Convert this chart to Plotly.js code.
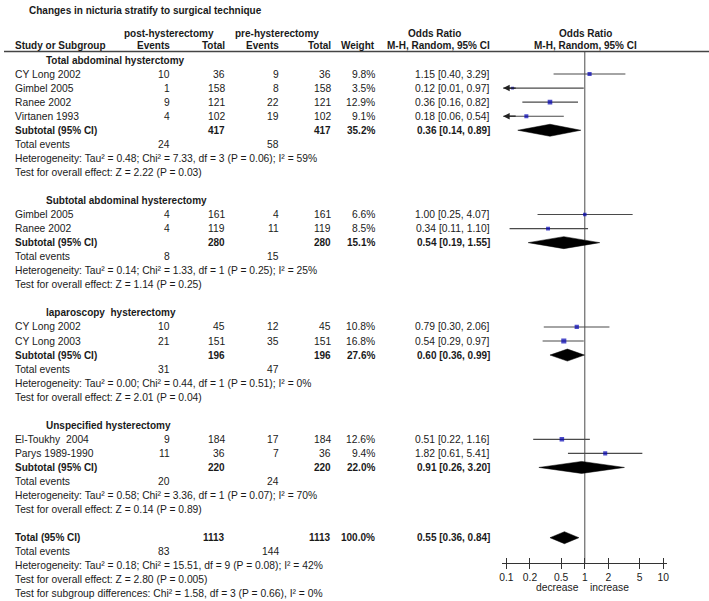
<!DOCTYPE html>
<html>
<head>
<meta charset="utf-8">
<script src="https://cdn.plot.ly/plotly-3.0.1.min.js"></script>
<style>html,body{margin:0;padding:0;background:#fff;}#chart{width:709px;height:601px;}</style>
</head>
<body>
<div id="chart"></div>
<script>
// ---------------- DATA ----------------
const chartTitle = "Changes in nicturia stratify to surgical technique";
const groupNames = ["Total abdominal hysterctomy", "Subtotal abdominal hysterectomy", "laparoscopy  hysterectomy", "Unspecified hysterectomy"];
const studyGroup = [0, 0, 0, 0, 1, 1, 2, 2, 3, 3];
const studyNames = ["CY Long 2002", "Gimbel 2005", "Ranee 2002", "Virtanen 1993", "Gimbel 2005", "Ranee 2002", "CY Long 2002", "CY Long 2003", "El-Toukhy  2004", "Parys 1989-1990"];
const postEvents = [10, 1, 9, 4, 4, 4, 10, 21, 9, 11];
const postTotal = [36, 158, 121, 102, 161, 119, 45, 151, 184, 36];
const preEvents = [9, 8, 22, 19, 4, 11, 12, 35, 17, 7];
const preTotal = [36, 158, 121, 102, 161, 119, 45, 151, 184, 36];
const studyWeight = [9.8, 3.5, 12.9, 9.1, 6.6, 8.5, 10.8, 16.8, 12.6, 9.4];
const studyOR = [1.15, 0.12, 0.36, 0.18, 1.00, 0.34, 0.79, 0.54, 0.51, 1.82];
const studyLo = [0.40, 0.01, 0.16, 0.06, 0.25, 0.11, 0.30, 0.29, 0.22, 0.61];
const studyHi = [3.29, 0.97, 0.82, 0.54, 4.07, 1.10, 2.06, 0.97, 1.16, 5.41];

const subPostTotal = [417, 280, 196, 220];
const subPreTotal = [417, 280, 196, 220];
const subPostEvents = [24, 8, 31, 20];
const subPreEvents = [58, 15, 47, 24];
const subWeight = [35.2, 15.1, 27.6, 22.0];
const subOR = [0.36, 0.54, 0.60, 0.91];
const subLo = [0.14, 0.19, 0.36, 0.26];
const subHi = [0.89, 1.55, 0.99, 3.20];
const subHet = [
  "Heterogeneity: Tau² = 0.48; Chi² = 7.33, df = 3 (P = 0.06); I² = 59%",
  "Heterogeneity: Tau² = 0.14; Chi² = 1.33, df = 1 (P = 0.25); I² = 25%",
  "Heterogeneity: Tau² = 0.00; Chi² = 0.44, df = 1 (P = 0.51); I² = 0%",
  "Heterogeneity: Tau² = 0.58; Chi² = 3.36, df = 1 (P = 0.07); I² = 70%"
];
const subTest = [
  "Test for overall effect: Z = 2.22 (P = 0.03)",
  "Test for overall effect: Z = 1.14 (P = 0.25)",
  "Test for overall effect: Z = 2.01 (P = 0.04)",
  "Test for overall effect: Z = 0.14 (P = 0.89)"
];
const totalPostTotal = 1113, totalPreTotal = 1113;
const totalPostEvents = 83, totalPreEvents = 144;
const totalWeight = 100.0;
const totalOR = 0.55, totalLo = 0.36, totalHi = 0.84;
const totalHet = "Heterogeneity: Tau² = 0.18; Chi² = 15.51, df = 9 (P = 0.08); I² = 42%";
const totalTest = "Test for overall effect: Z = 2.80 (P = 0.005)";
const subgroupTest = "Test for subgroup differences: Chi² = 1.58, df = 3 (P = 0.66), I² = 0%";
const tickValues = [0.1, 0.2, 0.5, 1, 2, 5, 10];
const tickLabels = ["0.1", "0.2", "0.5", "1", "2", "5", "10"];
const nullValue = 1;

// ---------------- LAYOUT RULES ----------------
const W = 709, H = 601;
const ROW0 = 60, DY = 14.05;
const HEADER_LINE_Y = 51.5, AXIS_Y = 563;
const FONT = "Liberation Sans, Arial, sans-serif";
const FS = 10.3, FSB = 10;
const TXT = "#1a1a1a";
const COL = { name: 13, head: 44, postEv: 172, postTot: 227, preEv: 281, preTot: 333, weight: 377, orTxt: 492 };
const LOGMIN = -1.05, LOGMAX = 1.05;
const X0PX = 502.4, X1PX = 667.2;
const rowY = i => ROW0 + i * DY;
const fmt2 = v => v.toFixed(2);
const ciText = (o, l, h) => fmt2(o) + " [" + fmt2(l) + ", " + fmt2(h) + "]";

const annotations = [];
function txt(px, y, text, anchor, bold, size) {
  annotations.push({
    xref: "paper", yref: "y", x: px / W, y: y, text: bold ? "<b>" + text + "</b>" : text,
    showarrow: false, xanchor: anchor, yanchor: "middle",
    font: { family: FONT, size: size || (bold ? FSB : FS), color: TXT }
  });
}

// Title & headers
txt(27, 10, chartTitle, "left", true, 10);
txt(169, 33, "post-hysterectomy", "center", true);
txt(277, 33, "pre-hysterectomy", "center", true);
txt(434, 33, "Odds Ratio", "center", true);
txt(585, 33, "Odds Ratio", "center", true);
txt(COL.name, 45, "Study or Subgroup", "left", true);
txt(COL.postEv, 45, "Events", "right", true);
txt(COL.postTot, 45, "Total", "right", true);
txt(COL.preEv, 45, "Events", "right", true);
txt(COL.preTot, 45, "Total", "right", true);
txt(COL.weight, 45, "Weight", "right", true);
txt(COL.orTxt, 45, "M-H, Random, 95% CI", "right", true);
txt(585, 45, "M-H, Random, 95% CI", "center", true);

// Build rows
const studyX = [], studyY = [], studySize = [];
const ciTraces = [];
const diamonds = [];
const clipMin = Math.pow(10, LOGMIN + 0.01);
let r = 0;
for (let g = 0; g < groupNames.length; g++) {
  txt(COL.head, rowY(r), groupNames[g], "left", true);
  r++;
  for (let i = 0; i < studyNames.length; i++) {
    if (studyGroup[i] !== g) continue;
    const y = rowY(r);
    txt(COL.name, y, studyNames[i], "left", false);
    txt(COL.postEv, y, String(postEvents[i]), "right", false);
    txt(COL.postTot, y, String(postTotal[i]), "right", false);
    txt(COL.preEv, y, String(preEvents[i]), "right", false);
    txt(COL.preTot, y, String(preTotal[i]), "right", false);
    txt(COL.weight, y, studyWeight[i].toFixed(1) + "%", "right", false);
    txt(COL.orTxt, y, ciText(studyOR[i], studyLo[i], studyHi[i]), "right", false);
    const lo = Math.max(studyLo[i], clipMin);
    ciTraces.push({ type: "scatter", mode: "lines", x: [lo, studyHi[i]], y: [y, y],
      line: { color: "#4a4a4a", width: 1.1 }, hoverinfo: "skip", showlegend: false });
    if (studyLo[i] < clipMin) {
      annotations.push({ xref: "x", yref: "y", x: Math.log10(clipMin), y: y, text: "",
        showarrow: true, ax: 14, ay: 0, arrowhead: 2, arrowsize: 1, arrowwidth: 1.3, arrowcolor: "#222" });
    }
    studyX.push(studyOR[i]); studyY.push(y); studySize.push(1 + Math.sqrt(studyWeight[i]));
    r++;
  }
  let y = rowY(r);
  txt(COL.name, y, "Subtotal (95% CI)", "left", true);
  txt(COL.postTot, y, String(subPostTotal[g]), "right", true);
  txt(COL.preTot, y, String(subPreTotal[g]), "right", true);
  txt(COL.weight, y, subWeight[g].toFixed(1) + "%", "right", true);
  txt(COL.orTxt, y, ciText(subOR[g], subLo[g], subHi[g]), "right", true);
  diamonds.push([subOR[g], subLo[g], subHi[g], y]);
  r++;
  y = rowY(r);
  txt(COL.name, y, "Total events", "left", false);
  txt(COL.postEv, y, String(subPostEvents[g]), "right", false);
  txt(COL.preEv, y, String(subPreEvents[g]), "right", false);
  r++;
  txt(COL.name, rowY(r), subHet[g], "left", false); r++;
  txt(COL.name, rowY(r), subTest[g], "left", false); r++;
  r++; // blank row
}
let y = rowY(r);
txt(COL.name, y, "Total (95% CI)", "left", true);
txt(COL.postTot, y, String(totalPostTotal), "right", true);
txt(COL.preTot, y, String(totalPreTotal), "right", true);
txt(COL.weight, y, totalWeight.toFixed(1) + "%", "right", true);
txt(COL.orTxt, y, ciText(totalOR, totalLo, totalHi), "right", true);
diamonds.push([totalOR, totalLo, totalHi, y]);
r++; y = rowY(r);
txt(COL.name, y, "Total events", "left", false);
txt(COL.postEv, y, String(totalPostEvents), "right", false);
txt(COL.preEv, y, String(totalPreEvents), "right", false);
r++; txt(COL.name, rowY(r), totalHet, "left", false);
r++; txt(COL.name, rowY(r), totalTest, "left", false);
r++; txt(COL.name, rowY(r), subgroupTest, "left", false);

txt(557, 587, "decrease", "center", false);
txt(609, 587, "increase", "center", false);

const HALF = 6;
const diamondTraces = diamonds.map(d => ({
  type: "scatter", mode: "lines", fill: "toself", fillcolor: "#000",
  x: [d[1], d[0], d[2], d[0], d[1]], y: [d[3], d[3] - HALF, d[3], d[3] + HALF, d[3]],
  line: { color: "#000", width: 0.5 }, hoverinfo: "skip", showlegend: false
}));

const pointTrace = {
  type: "scatter", mode: "markers", x: studyX, y: studyY,
  marker: { symbol: "square", size: studySize, color: "#0000b4", line: { width: 0 } },
  hoverinfo: "skip", showlegend: false
};

const nullLine = {
  type: "scatter", mode: "lines", x: [nullValue, nullValue], y: [HEADER_LINE_Y, AXIS_Y],
  line: { color: "#4a4a4a", width: 1 }, hoverinfo: "skip", showlegend: false
};

const xdom = [X0PX / W, X1PX / W];
const axPos = (H - AXIS_Y) / H;
const layout = {
  width: W, height: H, autosize: false,
  margin: { l: 0, r: 0, t: 0, b: 0, pad: 0 },
  paper_bgcolor: "#fff", plot_bgcolor: "rgba(0,0,0,0)",
  showlegend: false,
  xaxis: {
    type: "log", domain: xdom, range: [LOGMIN, LOGMAX], anchor: "free", position: axPos,
    tickvals: tickValues, ticktext: tickLabels, ticks: "outside", ticklen: 5, tickwidth: 1, tickcolor: "#333",
    showline: true, linecolor: "#333", linewidth: 1, showgrid: false, zeroline: false,
    tickfont: { family: FONT, size: FS, color: TXT }, fixedrange: true
  },
  xaxis2: {
    type: "log", domain: xdom, range: [LOGMIN, LOGMAX], anchor: "free", position: axPos, overlaying: "x",
    tickvals: tickValues, ticks: "inside", ticklen: 5, tickwidth: 1, tickcolor: "#333",
    showticklabels: false, showline: false, showgrid: false, zeroline: false
  },
  yaxis: { range: [H, 0], domain: [0, 1], visible: false, showgrid: false, zeroline: false, fixedrange: true },
  shapes: [
    { type: "line", xref: "paper", yref: "y", x0: 4 / W, x1: 1, y0: HEADER_LINE_Y, y1: HEADER_LINE_Y,
      line: { color: "#444", width: 1.3 } }
  ],
  annotations: annotations
};

const dummy2 = { type: "scatter", x: [1], y: [-100], xaxis: "x2", mode: "markers", marker: { opacity: 0 }, hoverinfo: "skip", showlegend: false };

Plotly.newPlot("chart", [nullLine, ...ciTraces, ...diamondTraces, pointTrace, dummy2], layout, { staticPlot: true, displayModeBar: false });
</script>
</body>
</html>
